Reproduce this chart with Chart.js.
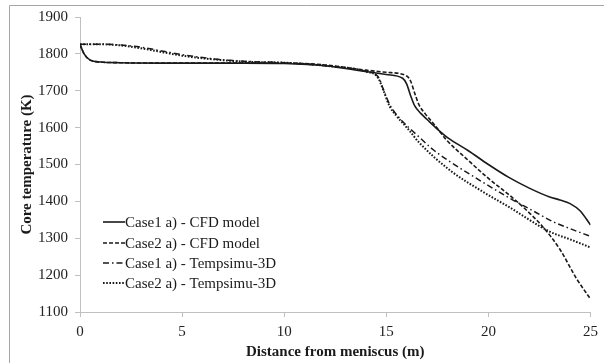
<html><head><meta charset="utf-8">
<script src="https://cdn.jsdelivr.net/npm/chart.js@4"></script>
<style>
 body{margin:0;background:#fff;}
 #wrap{position:relative;width:604px;height:363px;}
</style>
</head>
<body>
<div id="wrap"><canvas id="myChart" width="604" height="363"></canvas></div>
<script>
// values
var seriesNames = ['Case1 a) - CFD model', 'Case2 a) - CFD model', 'Case1 a) - Tempsimu-3D', 'Case2 a) - Tempsimu-3D'];

var case1CfdX = [0, 0.2, 0.5, 1, 2, 4, 6, 8, 10, 12, 14, 15, 15.8, 16, 16.2, 16.4, 16.7, 17, 17.5, 18, 19, 20, 21, 22, 23, 23.5, 24, 24.5, 25];
var case1CfdY = [1825, 1800, 1783, 1778, 1776, 1775, 1775, 1775, 1774, 1768, 1752, 1744, 1734, 1718, 1685, 1658, 1638, 1622, 1596, 1573, 1538, 1500, 1465, 1436, 1412, 1404, 1394, 1374, 1336];

var case2CfdX = [0, 0.2, 0.5, 1, 2, 4, 6, 8, 10, 12, 14, 15, 16, 16.2, 16.4, 16.6, 16.9, 17.4, 17.94, 19, 19.9, 21.2, 22, 22.65, 23.5, 24.3, 25];
var case2CfdY = [1825, 1800, 1783, 1778, 1776, 1775, 1775, 1775, 1775, 1770, 1756, 1750, 1740, 1725, 1692, 1662, 1638, 1605, 1567, 1512, 1467, 1409, 1369, 1332, 1270, 1192, 1135];

var case1TempX = [0, 1, 2, 3, 4, 5, 6, 7, 8, 10, 12, 14, 14.6, 14.85, 15.17, 15.66, 16.5, 17.3, 18, 19.4, 21, 22, 23.16, 24, 25];
var case1TempY = [1826, 1826, 1824, 1818, 1808, 1798, 1790, 1784, 1780, 1776, 1768, 1752, 1738, 1705, 1662, 1625, 1580, 1540, 1512, 1463, 1410, 1380, 1345, 1326, 1305];

var case2TempX = [0, 1, 2, 3, 4, 5, 6, 7, 8, 10, 12, 14, 14.6, 14.85, 15.17, 15.5, 16.1, 16.6, 18.1, 19.7, 21, 23, 24, 25];
var case2TempY = [1826, 1826, 1823, 1815, 1805, 1795, 1788, 1783, 1779, 1776, 1768, 1752, 1735, 1702, 1657, 1632, 1594, 1560, 1485, 1427, 1385, 1318, 1297, 1275];

var xTicks = [0, 5, 10, 15, 20, 25];
var yTicks = [1100, 1200, 1300, 1400, 1500, 1600, 1700, 1800, 1900];

function pts(xs, ys){ return xs.map(function(x, i){ return {x: x, y: ys[i]}; }); }

var ink = '#1a1a1a';
var axisGray = '#c0c0c0';
var serif = "'Liberation Serif', 'Times New Roman', serif";

function ds(label, xs, ys, dash, w){
  return {label: label, data: pts(xs, ys), borderColor: ink, backgroundColor: ink,
    borderWidth: w, borderDash: dash, pointRadius: 0, fill: false,
    cubicInterpolationMode: 'monotone'};
}

// legend drawn inside the plot, left side
var innerLegend = {
  id: 'innerLegend',
  afterDraw: function(chart){
    var c = chart.ctx;
    var rows = [222, 243, 263, 283];
    c.save();
    c.font = '15px ' + serif;
    c.textBaseline = 'middle';
    c.fillStyle = ink;
    chart.data.datasets.forEach(function(d, i){
      c.beginPath();
      c.setLineDash(d.borderDash);
      c.lineWidth = d.borderWidth;
      c.strokeStyle = d.borderColor;
      c.moveTo(103, rows[i]); c.lineTo(125, rows[i]);
      c.stroke();
      c.setLineDash([]);
      c.fillText(d.label, 125, rows[i] + 1);
    });
    c.restore();
  }
};

// faint frame round the chart (left and top edges show)
var frame = {
  id: 'frame',
  beforeDraw: function(chart){
    var c = chart.ctx;
    c.save();
    c.strokeStyle = '#a6a6a6';
    c.lineWidth = 1;
    c.beginPath();
    c.moveTo(9.5, 363); c.lineTo(9.5, 5.5); c.lineTo(604, 5.5);
    c.stroke();
    c.restore();
  }
};

function plain(v){ return String(v); }

var ctx = document.getElementById('myChart');
var myChart = new Chart(ctx, {
  type: 'line',
  data: {
    datasets: [
      ds(seriesNames[0], case1CfdX, case1CfdY, [], 1.6),
      ds(seriesNames[1], case2CfdX, case2CfdY, [4, 2], 1.6),
      ds(seriesNames[2], case1TempX, case1TempY, [6, 3, 1.5, 3], 1.5),
      ds(seriesNames[3], case2TempX, case2TempY, [1.6, 1.6], 2)
    ]
  },
  plugins: [frame, innerLegend],
  options: {
    responsive: false,
    animation: false,
    layout: {padding: {left: 0, top: 17, right: 13, bottom: 0}},
    plugins: {legend: {display: false}, tooltip: {enabled: false}},
    scales: {
      x: {
        type: 'linear', min: 0, max: 25,
        afterBuildTicks: function(s){ s.ticks = xTicks.map(function(v){ return {value: v}; }); },
        afterFit: function(s){ s.height = 51; },
        grid: {drawOnChartArea: false, color: axisGray, tickLength: 5},
        border: {color: axisGray},
        ticks: {font: {family: serif, size: 15}, color: '#222', padding: 6, maxRotation: 0, callback: plain},
        title: {display: true, text: 'Distance from meniscus (m)', color: ink,
          font: {family: serif, size: 15, weight: 'bold'}, padding: {top: 0, bottom: 2}}
      },
      y: {
        min: 1100, max: 1900,
        afterBuildTicks: function(s){ s.ticks = yTicks.map(function(v){ return {value: v}; }); },
        afterFit: function(s){ s.width = 80; },
        grid: {drawOnChartArea: false, color: axisGray, tickLength: 5},
        border: {color: axisGray},
        ticks: {font: {family: serif, size: 15}, color: '#222', padding: 7, callback: plain},
        title: {display: true, text: 'Core temperature (K)', color: ink,
          font: {family: serif, size: 15, weight: 'bold'}, padding: {top: 18, bottom: 0}}
      }
    }
  }
});
</script>
</body></html>
